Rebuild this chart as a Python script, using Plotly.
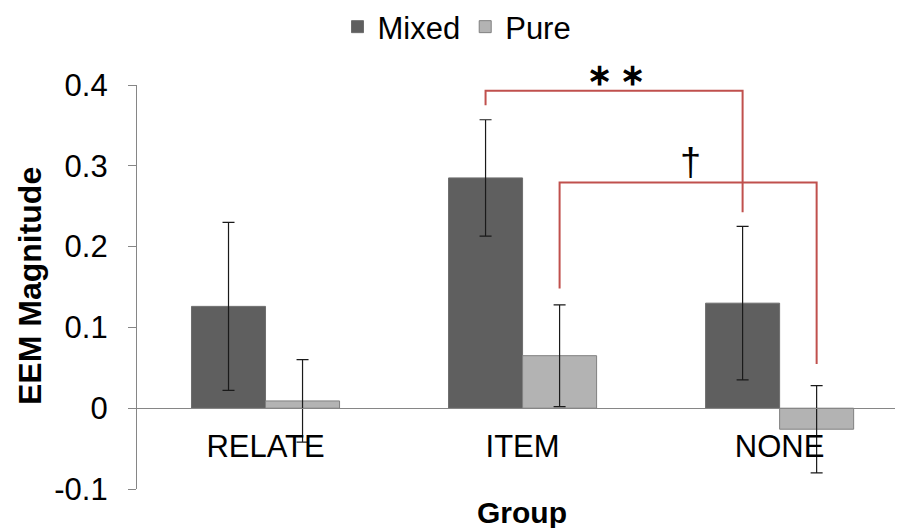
import plotly.graph_objects as go

categories = ["RELATE", "ITEM", "NONE"]
mixed = [0.126, 0.285, 0.130]
mixed_err = [0.104, 0.072, 0.095]
pure = [0.009, 0.065, -0.026]
pure_err = [0.051, 0.063, 0.054]
y_ticks = [-0.1, 0, 0.1, 0.2, 0.3, 0.4]
y_tick_labels = ["-0.1", "0", "0.1", "0.2", "0.3", "0.4"]

# significance brackets: (from cat, from series, to cat, to series, y_from, y_top, y_to, label)
sig_brackets = [
    (1, "Mixed", 2, "Mixed", 0.375, 0.393, 0.2425, "**"),
    (1, "Pure", 2, "Pure", 0.148, 0.2794, 0.0547, "†"),
]
sig_label_pos = [(1.364, 0.413), (1.654, 0.305)]

FONT = "Liberation Sans, Arial, sans-serif"
bargap = 0.424
bar_w = (1 - bargap) / 2
offset = {"Mixed": -bar_w / 2, "Pure": bar_w / 2}

# plot area in window pixels (page body adds an 8px offset)
PL, PT, PW, PH = 137, 85, 766, 404
PB = PT + PH
FIG_W, FIG_H = 895, 520


def px(xw):
    return (xw - PL) / PW


def py(yw):
    return (PB - yw) / PH


fig = go.Figure()
fig.add_trace(go.Bar(
    name="Mixed", x=categories, y=mixed,
    marker=dict(color="#5f5f5f", line=dict(color="#6e6e6e", width=1)),
    error_y=dict(type="data", array=mixed_err, color="#1a1a1a", thickness=1.2, width=6),
))
fig.add_trace(go.Bar(
    name="Pure", x=categories, y=pure,
    marker=dict(color="#b3b3b3", line=dict(color="#808080", width=1)),
    error_y=dict(type="data", array=pure_err, color="#1a1a1a", thickness=1.2, width=6),
))

for (c0, s0, c1, s1, yf, yt, yto, lab), (lx, ly) in zip(sig_brackets, sig_label_pos):
    x0 = c0 + offset[s0]
    x1 = c1 + offset[s1]
    fig.add_shape(type="path",
                  path=f"M {x0},{yf} L {x0},{yt} L {x1},{yt} L {x1},{yto}",
                  xref="x", yref="y", line=dict(color="#c0504d", width=2))
    fig.add_annotation(x=lx, y=(ly + 0.1) / 0.5, xref="x", yref="paper",
                       text=("<b>∗ ∗</b>" if lab == "**" else lab), showarrow=False,
                       font=dict(family=FONT, size=30 if lab == "**" else 38, color="#000000"),
                       xanchor="center", yanchor="middle")

fig.add_annotation(x=px(522), y=py(512), xref="paper", yref="paper", text="<b>Group</b>",
                   showarrow=False, xanchor="center", yanchor="middle",
                   font=dict(family=FONT, size=30, color="#000000"))
fig.add_annotation(x=px(30), y=py(286), xref="paper", yref="paper", text="<b>EEM Magnitude</b>",
                   showarrow=False, xanchor="center", yanchor="middle", textangle=-90,
                   font=dict(family=FONT, size=32, color="#000000"))

fig.update_layout(
    width=FIG_W, height=FIG_H,
    margin=dict(l=PL - 8, r=0, t=PT - 8, b=FIG_H - (PT - 8) - PH, autoexpand=False),
    paper_bgcolor="white", plot_bgcolor="white",
    barmode="group", bargap=bargap, bargroupgap=0,
    font=dict(family=FONT, size=31, color="#000000"),
    showlegend=True,
    legend=dict(orientation="h", x=(457 - 8) / FIG_W, y=1 - (27 - 8) / FIG_H,
                xref="container", yref="container",
                xanchor="center", yanchor="middle",
                font=dict(family=FONT, size=31, color="#000000"),
                itemwidth=30, tracegroupgap=0, bgcolor="rgba(0,0,0,0)"),
    xaxis=dict(type="category", range=[-0.5, 2.48], anchor="free", position=0.2,
               showline=True, linecolor="#868686", linewidth=1.3,
               ticks="outside", ticklen=10, tickcolor="rgba(0,0,0,0)",
               showgrid=False, zeroline=False,
               tickfont=dict(family=FONT, size=31, color="#000000")),
    yaxis=dict(range=[-0.1, 0.4], tickvals=y_ticks, ticktext=y_tick_labels,
               showline=True, linecolor="#868686", linewidth=1.3,
               ticks="outside", ticklen=8, tickcolor="#868686", ticklabelstandoff=14,
               showgrid=False, zeroline=False,
               tickfont=dict(family=FONT, size=31, color="#000000")),
)

fig.write_html("out.html")
